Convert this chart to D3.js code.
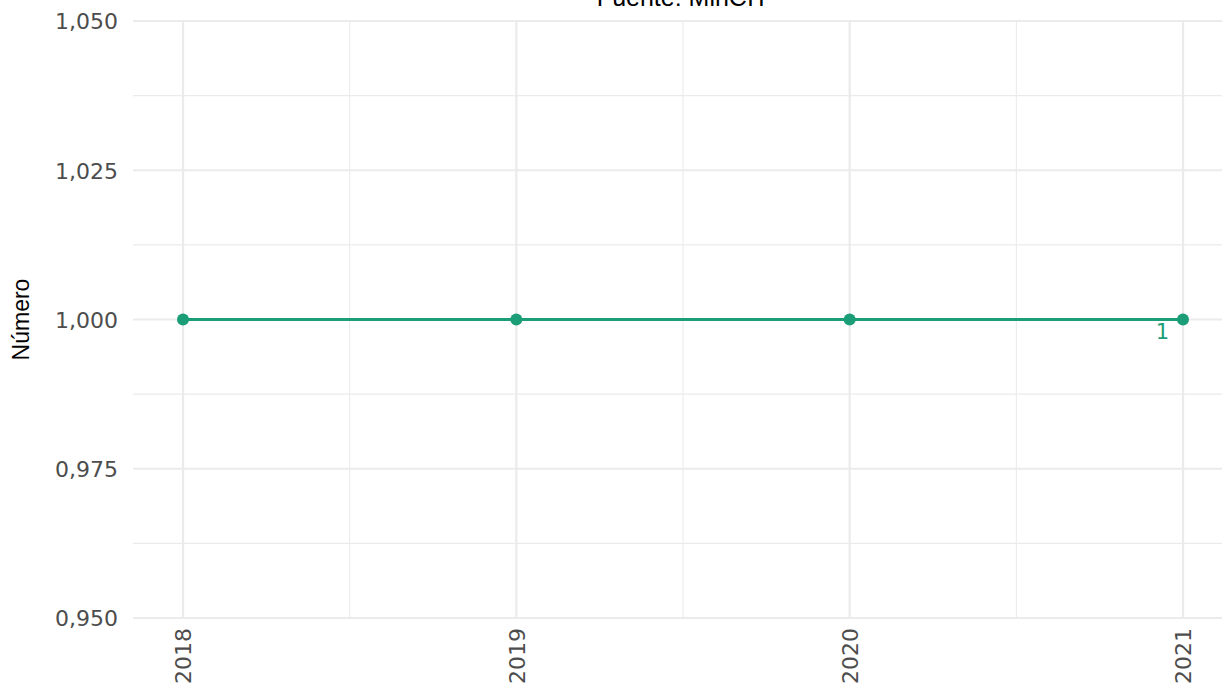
<!DOCTYPE html>
<html>
<head>
<meta charset="utf-8">
<script src="https://cdn.jsdelivr.net/npm/d3@7"></script>
<style>
  html, body { margin: 0; padding: 0; background: #fff; }
  svg { display: block; }
</style>
</head>
<body>
<svg id="chart" width="1222" height="685"></svg>
<script>
// Series: yearly count
const years = [2018, 2019, 2020, 2021];
const values = [1, 1, 1, 1];
const yTicks = [0.95, 0.975, 1.0, 1.025, 1.05];
const yMinor = [0.9625, 0.9875, 1.0125, 1.0375];
const xMinor = [2018.5, 2019.5, 2020.5];
const title = "Fuente: MinCIT";
const yTitle = "Número";
const endLabel = "1";

const W = 1222, H = 685;
const svg = d3.select("#chart");
const color = "#1b9e77";
const grid = "#ebebeb";

const x = d3.scaleLinear().domain([2018 - 0.15, 2021 + 0.15]).range([133, 1233]);
const y = d3.scaleLinear().domain([0.95, 1.05]).range([618, 21]);

const fmt = v => d3.format(",.3f")(v).replace(".", ",");

// grid
const g = svg.append("g");
g.selectAll(".ymin").data(yMinor).join("line")
  .attr("x1", 133).attr("x2", W).attr("y1", d => y(d)).attr("y2", d => y(d))
  .attr("stroke", grid).attr("stroke-width", 1.1);
g.selectAll(".xmin").data(xMinor).join("line")
  .attr("y1", 21).attr("y2", 618).attr("x1", d => x(d)).attr("x2", d => x(d))
  .attr("stroke", grid).attr("stroke-width", 1.1);
g.selectAll(".ymaj").data(yTicks).join("line")
  .attr("x1", 133).attr("x2", W).attr("y1", d => y(d)).attr("y2", d => y(d))
  .attr("stroke", grid).attr("stroke-width", 2.2);
g.selectAll(".xmaj").data(years).join("line")
  .attr("y1", 21).attr("y2", 618).attr("x1", d => x(d)).attr("x2", d => x(d))
  .attr("stroke", grid).attr("stroke-width", 2.2);

// axes labels
const yAxis = d3.axisLeft(y).tickValues(yTicks).tickFormat(fmt).tickSize(0).tickPadding(0);
const ya = svg.append("g").attr("transform", "translate(118,0)").call(yAxis);
ya.select(".domain").remove();
ya.selectAll("text").attr("font-family", "DejaVu Sans").attr("font-size", 22)
  .attr("fill", "#4d4d4d").attr("dy", "0.36em");

const xAxis = d3.axisBottom(x).tickValues(years).tickFormat(d3.format("d")).tickSize(0);
const xa = svg.append("g").attr("transform", "translate(0,628)").call(xAxis);
xa.select(".domain").remove();
xa.selectAll("text")
  .attr("font-family", "DejaVu Sans").attr("font-size", 22).attr("fill", "#4d4d4d")
  .attr("transform", "rotate(-90)")
  .attr("text-anchor", "end")
  .attr("x", 0).attr("y", 0).attr("dy", "0.36em");

// y title
svg.append("text")
  .attr("transform", `translate(29,${(21 + 618) / 2}) rotate(-90)`)
  .attr("text-anchor", "middle")
  .attr("font-family", "Liberation Sans").attr("font-size", 23)
  .attr("fill", "#000").text(yTitle);

// title
svg.append("text")
  .attr("x", (133 + 1233) / 2).attr("y", 6)
  .attr("text-anchor", "middle")
  .attr("font-family", "Liberation Sans").attr("font-size", 25)
  .attr("fill", "#000").text(title);

// line + points
const data = years.map((yr, i) => ({ yr, v: values[i] }));
svg.append("path").datum(data)
  .attr("fill", "none").attr("stroke", color).attr("stroke-width", 2.8)
  .attr("d", d3.line().x(d => x(d.yr)).y(d => y(d.v)));
svg.selectAll(".pt").data(data).join("circle")
  .attr("cx", d => x(d.yr)).attr("cy", d => y(d.v)).attr("r", 6)
  .attr("fill", color);

// end label
const last = data[data.length - 1];
svg.append("text")
  .attr("x", x(last.yr) - 14).attr("y", y(last.v) + 19)
  .attr("text-anchor", "end")
  .attr("font-family", "DejaVu Sans").attr("font-size", 21)
  .attr("fill", color).text(endLabel);
</script>
</body>
</html>
